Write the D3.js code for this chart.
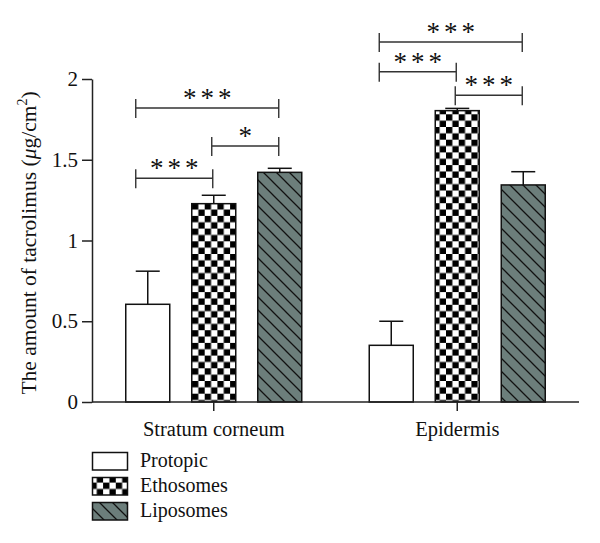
<!DOCTYPE html>
<html>
<head>
<meta charset="utf-8">
<script src="https://cdn.jsdelivr.net/npm/d3@7"></script>
<style>
  html, body { margin: 0; padding: 0; background: #fff; }
  svg { display: block; }
  text { font-family: "Liberation Serif", "DejaVu Serif", serif; fill: #111; }
</style>
</head>
<body>
<svg id="chart" width="600" height="543"></svg>
<script>
// ---- data ----
const groups = ["Stratum corneum", "Epidermis"];
const series = ["Protopic", "Ethosomes", "Liposomes"];
const means = [
  [0.605, 1.228, 1.422],   // Stratum corneum
  [0.351, 1.804, 1.344]    // Epidermis
];
const errors = [
  [0.810, 1.280, 1.447],
  [0.500, 1.818, 1.426]
];
const yTicks = [0, 0.5, 1, 1.5, 2];
const yTickLabels = ["0", "0.5", "1", "1.5", "2"];
// significance brackets: group index, from series, to series, bracket level (data units), label
const bracketGroup = [0, 0, 0, 1, 1, 1];
const bracketFrom  = [0, 1, 0, 0, 0, 1];
const bracketTo    = [2, 2, 1, 2, 1, 2];
const bracketLevel = [1.82, 1.585, 1.385, 2.229, 2.045, 1.899];
const bracketLabel = ["***", "*", "***", "***", "***", "***"];

// ---- layout ----
const svg = d3.select("#chart");
const x0 = 92, x1 = 579, yBottom = 402, yTop = 79;

const y = d3.scaleLinear().domain([0, 2]).range([yBottom, yTop]);
const xg = d3.scaleBand().domain(groups).range([x0, x1]).padding(0);
const xs = d3.scaleBand().domain(series)
  .range([-99, 99]).paddingInner(1/3).paddingOuter(1/6);
const center = (g, s) => xg(groups[g]) + xg.bandwidth() / 2 + xs(series[s]) + xs.bandwidth() / 2;

// ---- patterns ----
const defs = svg.append("defs");
const cell = 6.35;
const chk = defs.append("pattern").attr("id", "checker")
  .attr("patternUnits", "userSpaceOnUse")
  .attr("width", cell * 2).attr("height", cell * 2)
  .attr("x", 192).attr("y", 0);
chk.append("rect").attr("width", cell * 2).attr("height", cell * 2).attr("fill", "#fff");
chk.append("rect").attr("width", cell).attr("height", cell).attr("fill", "#000");
chk.append("rect").attr("x", cell).attr("y", cell).attr("width", cell).attr("height", cell).attr("fill", "#000");

const hs = 13;
const hat = defs.append("pattern").attr("id", "hatch")
  .attr("patternUnits", "userSpaceOnUse")
  .attr("width", hs).attr("height", hs);
hat.append("rect").attr("width", hs).attr("height", hs).attr("fill", "#6c7e7b");
hat.append("path")
  .attr("d", `M0,0 L${hs},${hs} M${-hs},0 L0,${hs} M${hs},0 L${2*hs},${hs} M0,${-hs} L${hs},0 M0,${hs} L${hs},${2*hs}`)
  .attr("stroke", "#111").attr("stroke-width", 1.3);

const fills = ["#ffffff", "url(#checker)", "url(#hatch)"];

// ---- bars ----
const barData = [];
groups.forEach((g, gi) => series.forEach((s, si) => barData.push({ gi, si, v: means[gi][si], e: errors[gi][si] })));

// error bars (drawn first so bars sit on top)
const eb = svg.append("g").attr("stroke", "#111").attr("stroke-width", 1.5);
barData.forEach(d => {
  const cx = center(d.gi, d.si);
  eb.append("line").attr("x1", cx).attr("x2", cx).attr("y1", y(d.v)).attr("y2", y(d.e));
  eb.append("line").attr("x1", cx - 12).attr("x2", cx + 12).attr("y1", y(d.e)).attr("y2", y(d.e));
});

svg.append("g").selectAll("rect").data(barData).join("rect")
  .attr("x", d => xg(groups[d.gi]) + xg.bandwidth() / 2 + xs(series[d.si]))
  .attr("y", d => y(d.v))
  .attr("width", xs.bandwidth())
  .attr("height", d => y(0) - y(d.v))
  .attr("fill", d => fills[d.si])
  .attr("stroke", "#111").attr("stroke-width", 1.5);

// ---- axes ----
const yAxis = d3.axisLeft(y).tickValues(yTicks).tickFormat((d, i) => yTickLabels[i])
  .tickSize(10).tickPadding(4).tickSizeOuter(0);
const gy = svg.append("g").attr("transform", `translate(${x0},0)`).call(yAxis);
gy.selectAll("path, line").attr("stroke", "#222").attr("stroke-width", 1.5);
gy.selectAll("text").style("font-size", "21px").attr("font-family", "Liberation Serif").attr("fill", "#111");

const xAxis = d3.axisBottom(xg).tickSize(9).tickPadding(10).tickSizeOuter(0);
const gx = svg.append("g").attr("transform", `translate(0,${yBottom})`).call(xAxis);
gx.selectAll("path, line").attr("stroke", "#222").attr("stroke-width", 1.5);
gx.selectAll("text").style("font-size", "20.5px").attr("font-family", "Liberation Serif").attr("fill", "#111")
  .attr("dy", "0.71em").attr("y", 19);
gx.select(".domain").attr("d", `M${x0},0H${x1}`);

// y-axis title
const yt = svg.append("text")
  .attr("transform", `translate(36,243) rotate(-90)`)
  .attr("text-anchor", "middle")
  .style("font-size", "21.5px");
yt.append("tspan").text("The amount of tacrolimus (");
yt.append("tspan").attr("font-style", "italic").text("μ");
yt.append("tspan").text("g/cm");
yt.append("tspan").attr("dy", -9).style("font-size", "14px").text("2");
yt.append("tspan").attr("dy", 9).text(")");

// ---- significance brackets ----
const bg = svg.append("g");
bracketLabel.forEach((lab, i) => {
  const g = bracketGroup[i];
  const xa = center(g, bracketFrom[i]) - (bracketFrom[i] === 0 ? 12 : 2);
  const xb = center(g, bracketTo[i]) - 1;
  const yy = y(bracketLevel[i]);
  bg.append("path")
    .attr("d", `M${xa},${yy - 9}V${yy + 10}M${xa},${yy}H${xb}M${xb},${yy - 9}V${yy + 10}`)
    .attr("stroke", "#333").attr("stroke-width", 1.4).attr("fill", "none");
  bg.append("text").attr("x", (xa + xb) / 2 + 2).attr("y", yy - 1)
    .attr("text-anchor", "middle").style("font-size", "27px")
    .style("letter-spacing", "4px").attr("fill", "#555")
    .text(lab);
});

// ---- legend ----
const lg = svg.append("g");
series.forEach((s, i) => {
  const yy = 452.5 + i * 25;
  lg.append("rect").attr("x", 92.5).attr("y", yy).attr("width", 35).attr("height", 17.5)
    .attr("fill", fills[i]).attr("stroke", "#111").attr("stroke-width", 1.5);
  lg.append("text").attr("x", 140).attr("y", yy + 14.5).style("font-size", "20px").text(s);
});
</script>
</body>
</html>
